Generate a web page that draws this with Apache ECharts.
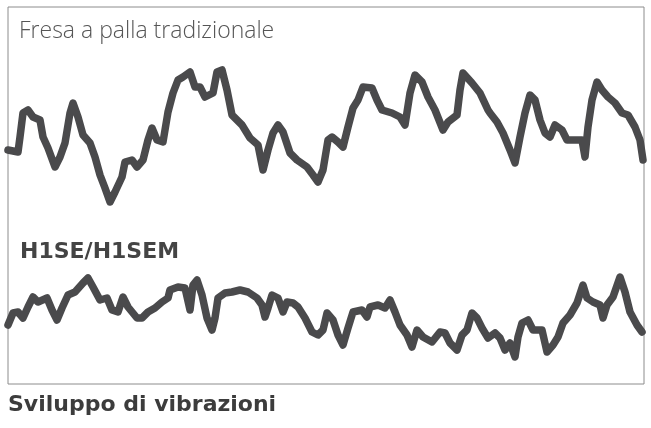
<!DOCTYPE html>
<html><head><meta charset="utf-8">
<script src="https://cdn.jsdelivr.net/npm/echarts@6/dist/echarts.min.js"></script>
<style>html,body{margin:0;padding:0;background:#fff}#c{width:651px;height:428px}</style>
</head><body><div id="c"></div>
<script>
// Time positions (arbitrary units) and amplitudes
const topTime = [0,10,12,15,20,25,32,35,40,47,52,57,62,65,70,75,82,87,92,97,102,107,114,117,124,129,135,140,144,149,155,157,160,162,165,170,175,182,187,192,197,205,209,214,219,224,234,242,250,255,260,265,270,275,282,289,299,305,310,315,320,324,330,335,340,345,350,355,364,369,374,384,392,397,402,407,414,420,427,435,440,449,452,455,464,472,480,482,489,495,502,507,512,517,522,527,532,537,542,547,554,559,567,574,577,580,584,589,594,600,607,614,620,627,632,635];
const topVal  = [234,232,247,271,274,267,264,247,236,217,227,241,271,281,267,249,241,227,209,196,182,192,207,222,224,217,224,244,256,244,242,244,272,274,291,304,307,312,297,297,287,291,312,314,294,269,259,246,239,214,234,251,259,252,231,224,217,209,202,214,244,247,242,237,257,276,284,297,296,284,274,271,267,259,291,309,302,287,274,254,262,269,294,311,301,291,274,271,262,251,234,221,247,271,289,284,264,251,247,259,254,244,244,244,227,257,284,302,294,287,281,271,269,257,244,224];
const botTime = [0,5,10,15,20,25,30,39,44,49,54,60,67,75,80,85,92,99,104,110,115,120,129,134,140,147,154,160,162,170,177,182,185,189,194,199,204,207,210,217,224,232,240,249,254,257,260,264,270,275,279,285,290,297,304,310,315,319,325,330,335,340,345,354,359,362,370,377,382,387,392,399,404,409,415,424,432,437,442,449,454,459,464,469,474,480,487,492,497,502,507,510,514,520,525,534,539,545,550,555,562,569,575,579,585,592,595,599,605,612,617,622,629,634];
const botVal  = [59,71,72,66,77,87,82,86,74,64,76,89,92,101,106,97,84,86,74,72,87,77,66,66,72,76,82,86,94,97,96,74,99,104,89,66,54,66,86,91,92,94,92,86,79,67,76,89,86,72,82,81,77,66,52,49,54,71,64,49,39,56,72,74,67,77,79,76,84,72,59,49,37,54,47,42,52,51,41,34,49,54,71,66,56,46,51,46,34,41,27,47,61,64,54,54,32,39,47,61,69,81,99,86,82,79,66,79,87,107,92,72,59,52];

const traceColor = '#4a4a4c';
const chart = echarts.init(document.getElementById('c'));
function pairs(t, v){ return t.map((x,i)=>[x, v[i]]); }
const lineStyle = {color: traceColor, width: 7.5, join: 'round', cap: 'round'};
chart.setOption({
  animation: false,
  grid: {left: 8, right: 7, top: 7, bottom: 44, show: true, borderColor: '#8c8c8c', borderWidth: 1, backgroundColor: '#fff'},
  xAxis: {type: 'value', min: 0, max: 636, show: false},
  yAxis: {type: 'value', min: 0, max: 377, show: false},
  series: [
    {type: 'line', data: pairs(topTime, topVal), showSymbol: false, lineStyle: lineStyle, clip: true},
    {type: 'line', data: pairs(botTime, botVal), showSymbol: false, lineStyle: lineStyle, clip: true}
  ],
  graphic: [
    {type: 'text', left: 19, top: 20, style: {text: 'Fresa a palla tradizionale', font: '300 23px "Open Sans"', fill: '#555'}},
    {type: 'text', left: 20, top: 241, style: {text: 'H1SE/H1SEM', font: 'bold 22px "DejaVu Sans"', fill: '#444'}},
    {type: 'text', left: 8, top: 394, style: {text: 'Sviluppo di vibrazioni', font: 'bold 22px "DejaVu Sans"', fill: '#3c3c3c'}}
  ]
});
</script></body></html>
